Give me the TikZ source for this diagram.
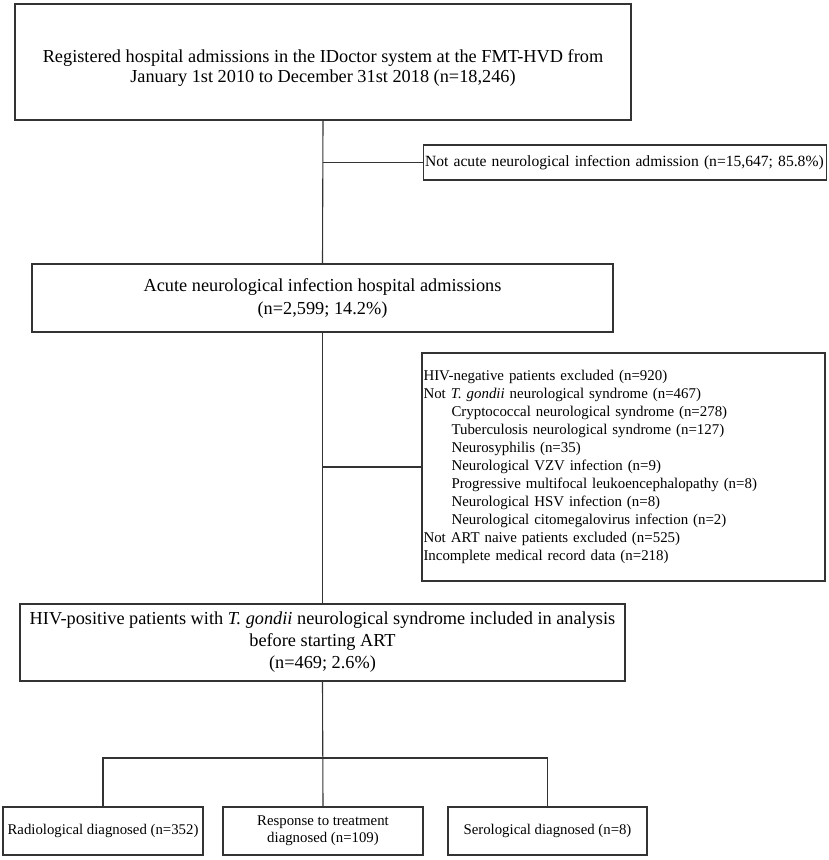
\documentclass[tikz,border=0pt]{standalone}
\usepackage{fontspec}
\setmainfont{Liberation Serif}
\tikzset{
  flowbox/.style={draw=black!80, line width=1.1pt, rectangle, inner sep=1.5pt, align=center},
  mainbox/.style={flowbox, font=\fontsize{18.3}{22}\selectfont},
  sidebox/.style={flowbox, align=left, text width=400pt, inner xsep=1.5pt},
  diagbox/.style={flowbox, font=\fontsize{14.8}{17}\selectfont, minimum height=48pt},
  link/.style={draw=black!80, line width=1.1pt}
}
\begin{document}
\begin{tikzpicture}[x=1pt,y=-1pt]
  \useasboundingbox (0,0) rectangle (829,860);
  % main column
  \node[mainbox, font=\fontsize{18.3}{20}\selectfont, minimum width=616pt, minimum height=116pt] (registered) at (323,62)
    {\rule{0pt}{25pt}Registered hospital admissions in the IDoctor system at the FMT-HVD from\\January 1st 2010 to December 31st 2018 (n=18,246)};
  \node[mainbox, font=\fontsize{18.3}{23}\selectfont, minimum width=581pt, minimum height=68pt] (acute) at (322.5,298)
    {Acute neurological infection hospital admissions\\(n=2,599; 14.2\%)};
  \node[mainbox, minimum width=605pt, minimum height=77pt] (included) at (322.5,642.5)
    {HIV-positive patients with \textit{T. gondii} neurological syndrome included in analysis\\before starting ART\\(n=469; 2.6\%)};
  % exclusions
  \node[sidebox, font=\fontsize{15.6}{18}\selectfont, minimum height=35pt] (notacute) at (625,162.5)
    {Not acute neurological infection admission (n=15,647; 85.8\%)};
  \node[sidebox, font=\fontsize{14.9}{18}\selectfont, minimum height=228pt] (excluded) at (623.5,467)
    {HIV-negative patients excluded (n=920)\\
     Not \textit{T. gondii} neurological syndrome (n=467)\\
     \hspace*{28pt}Cryptococcal neurological syndrome (n=278)\\
     \hspace*{28pt}Tuberculosis neurological syndrome (n=127)\\
     \hspace*{28pt}Neurosyphilis (n=35)\\
     \hspace*{28pt}Neurological VZV infection (n=9)\\
     \hspace*{28pt}Progressive multifocal leukoencephalopathy (n=8)\\
     \hspace*{28pt}Neurological HSV infection (n=8)\\
     \hspace*{28pt}Neurological citomegalovirus infection (n=2)\\
     Not ART naive patients excluded (n=525)\\
     Incomplete medical record data (n=218)};
  % diagnosis
  \node[diagbox, minimum width=200pt] (radio) at (103,831)
    {Radiological diagnosed (n=352)};
  \node[diagbox, minimum width=200pt] (response) at (323,831)
    {Response to treatment\\diagnosed (n=109)};
  \node[diagbox, minimum width=199pt] (sero) at (547.5,831)
    {Serological diagnosed (n=8)};
  \coordinate (split) at (323,758);

  \draw[link] (registered.south) -- (acute.north);
  \draw[link] (registered.south |- notacute.west) -- (notacute.west);
  \draw[link] (acute.south) -- (included.north);
  \draw[link] (acute.south |- excluded.west) -- (excluded.west);
  \draw[link] (included.south) -- (response.north);
  \draw[link] (radio.north) -- (radio.north |- split) -- (sero.north |- split) -- (sero.north);
\end{tikzpicture}
\end{document}
